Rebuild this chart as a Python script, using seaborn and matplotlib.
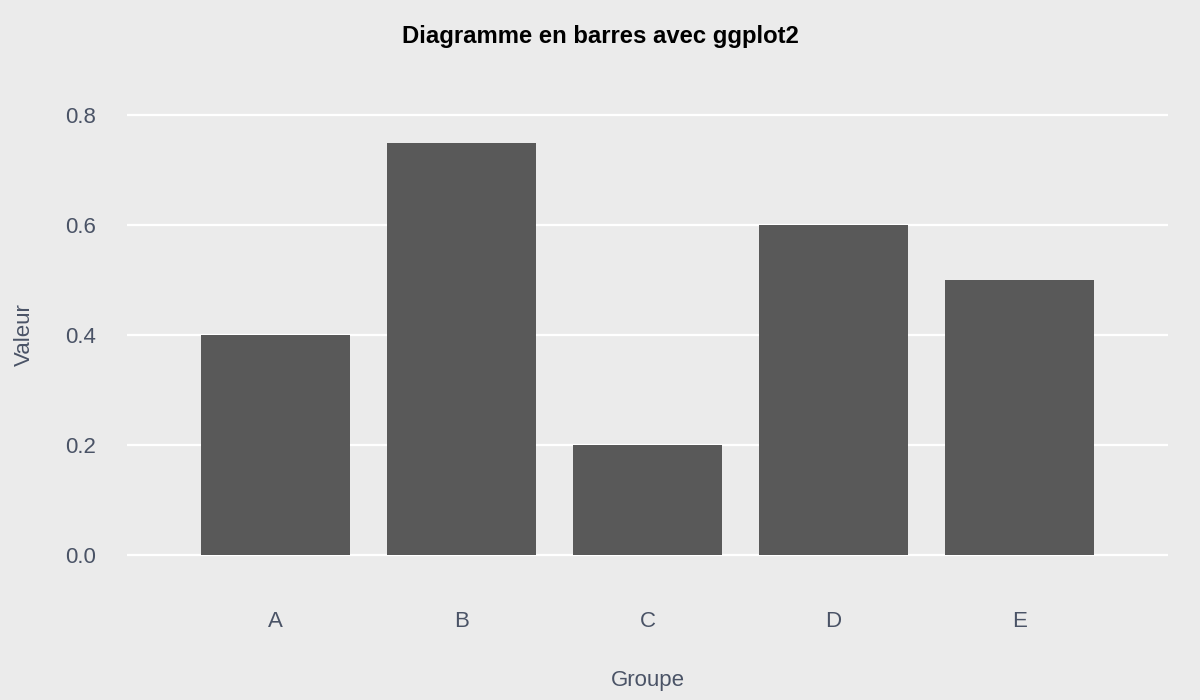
import matplotlib
matplotlib.use("Agg")
import matplotlib.pyplot as plt
import seaborn as sns
import pandas as pd

groupes = ["A", "B", "C", "D", "E"]
valeurs = [0.40, 0.75, 0.20, 0.60, 0.50]
y_ticks = [0.0, 0.2, 0.4, 0.6, 0.8]

df = pd.DataFrame({"Groupe": groupes, "Valeur": valeurs})

bg = "#EBEBEB"
txt = "#4A5366"

sns.set_style("white")
plt.rcParams["font.family"] = ["Liberation Sans", "DejaVu Sans"]

fig = plt.figure(figsize=(12, 7), dpi=100, facecolor=bg)
ax = fig.add_axes([127 / 1200, 1 - 580 / 700, (1168 - 127) / 1200, 490 / 700])
ax.set_facecolor(bg)

sns.barplot(data=df, x="Groupe", y="Valeur", color="#595959", width=0.8,
            saturation=1, linewidth=0, ax=ax, zorder=3)

ax.set_xlim(-0.8, 4.8)
ax.set_ylim(-25 / 550, 0.8 + 25 / 550)
ax.set_yticks(y_ticks)
ax.set_yticklabels([f"{v:.1f}" for v in y_ticks])
ax.yaxis.grid(True, color="white", linewidth=1.6, zorder=0)
ax.xaxis.grid(False)
ax.set_axisbelow(True)
for s in ax.spines.values():
    s.set_visible(False)
ax.tick_params(axis="both", length=0, labelsize=16, colors=txt)
ax.tick_params(axis="y", pad=22)
ax.tick_params(axis="x", pad=22)

ax.set_xlabel("Groupe", fontsize=16, color=txt, labelpad=28)
ax.set_ylabel("Valeur", fontsize=16, color=txt, labelpad=22)
fig.text(0.5, 1 - 37 / 700, "Diagramme en barres avec ggplot2",
         ha="center", va="center", fontsize=17.2, fontweight="bold", color="black")

fig.savefig("out.png", dpi=100, facecolor=bg)
